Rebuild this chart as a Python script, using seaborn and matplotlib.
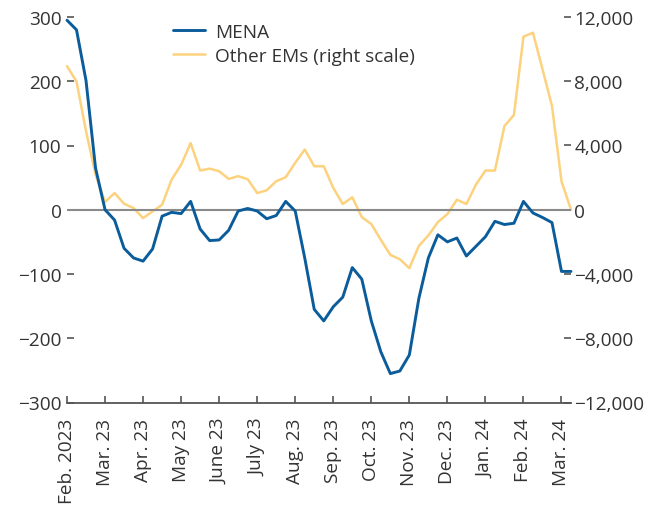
import matplotlib
matplotlib.use("Agg")
import matplotlib.pyplot as plt
import seaborn as sns
import pandas as pd
from matplotlib.lines import Line2D

# ---- data (weekly observations, 4 per month slot) ----
mena = [295, 280, 201, 65, 0, -16, -60, -75, -80, -61, -10, -4, -6, 13,
        -30, -48, -47, -32, -2, 2, -2, -14, -9, 13, -2, -75, -155, -173,
        -151, -136, -90, -108, -173, -221, -255, -251, -226, -138, -75, -39,
        -50, -44, -72, -57, -42, -18, -23, -21, 13, -5, -12, -20, -96, -96]
other_ems = [8940, 7980, 4900, 2190, 480, 1040, 375, 106, -520, -100, 310,
             1875, 2800, 4150, 2440, 2560, 2400, 1920, 2090, 1900, 1040, 1210,
             1775, 2025, 2920, 3750, 2710, 2710, 1360, 356, 775, -456, -890,
             -1875, -2810, -3080, -3640, -2250, -1600, -770, -270, 625, 356,
             1560, 2440, 2440, 5210, 5900, 10775, 11025, 8750, 6460, 1775, 0]
month_labels = ["Feb. 2023", "Mar. 23", "Apr. 23", "May 23", "June 23", "July 23",
                "Aug. 23", "Sep. 23", "Oct. 23", "Nov. 23", "Dec. 23", "Jan. 24",
                "Feb. 24", "Mar. 24"]
weeks_per_month = 4
left_ticks = [-300, -200, -100, 0, 100, 200, 300]
right_ticks = [-12000, -8000, -4000, 0, 4000, 8000, 12000]

df = pd.DataFrame({"week": list(range(len(mena))), "MENA": mena, "Other": other_ems})

sns.set_style("white")
plt.rcParams["font.family"] = ["Open Sans", "DejaVu Sans"]

BLUE = "#0B5C9B"
YELLOW = "#FDD27E"
TXT = "#333333"
SPINE = "#555555"
FS = 13.7

fig = plt.figure(figsize=(6.65, 5.06), dpi=100)
ax = fig.add_axes([67 / 665, 1 - 403.5 / 506, (571 - 67) / 665, (403.5 - 18) / 506])
ax2 = ax.twinx()

ax.axhline(0, color="#8a8a8a", lw=1.5, zorder=1)

sns.lineplot(data=df, x="week", y="Other", ax=ax2, color=YELLOW, lw=1.8,
             legend=False, clip_on=False)
sns.lineplot(data=df, x="week", y="MENA", ax=ax, color=BLUE, lw=2.1,
             legend=False, clip_on=False, zorder=3)

ax.set_xlim(0, len(mena) - 1)
ax.set_ylim(-300, 300)
ax2.set_ylim(-12000, 12000)

ax.set_zorder(ax2.get_zorder() + 1)
ax.patch.set_visible(False)

xt = [i * weeks_per_month for i in range(len(month_labels))]
ax.set_xticks(xt)
ax.set_xticklabels(month_labels, rotation=90, fontsize=FS, color=TXT)
ax.set_yticks(left_ticks)
ax.set_yticklabels([f"{v:d}".replace("-", "\u2212") for v in left_ticks], fontsize=FS, color=TXT)
ax2.set_yticks(right_ticks)
ax2.set_yticklabels([f"{v:,d}".replace("-", "\u2212") for v in right_ticks], fontsize=FS, color=TXT)

ax.set_xlabel("")
ax.set_ylabel("")
ax2.set_ylabel("")

for a in (ax, ax2):
    for s in ("top", "left", "right"):
        a.spines[s].set_visible(False)
ax2.spines["bottom"].set_visible(False)
ax.spines["bottom"].set_color(SPINE)
ax.spines["bottom"].set_linewidth(1.3)

ax.tick_params(axis="x", direction="in", length=5, width=1.2, color=SPINE, pad=11, bottom=True)
ax.tick_params(axis="y", direction="in", length=5, width=1.2, color=SPINE, pad=4, left=True)
ax2.tick_params(axis="y", direction="in", length=5, width=1.2, color=SPINE, pad=2.5, right=True)

handles = [Line2D([], [], color=BLUE, lw=2.1), Line2D([], [], color=YELLOW, lw=1.8)]
fig.legend(handles, ["MENA", "Other EMs (right scale)"], loc="upper left",
           bbox_to_anchor=(173 / 665, 1 - 24 / 506), frameon=False, fontsize=FS,
           borderpad=0, borderaxespad=0, handlelength=1.7, handletextpad=0.52,
           labelspacing=0.3, labelcolor=TXT)

fig.savefig("out.png", dpi=100)
